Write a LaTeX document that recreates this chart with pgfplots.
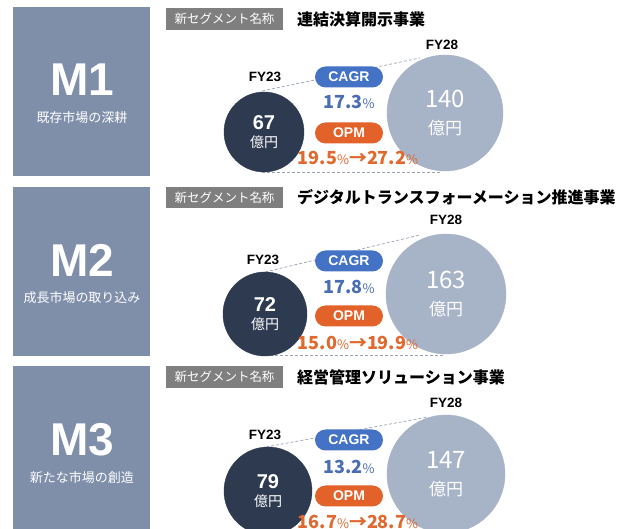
\documentclass[border=0pt]{standalone}
\usepackage{pgfplots}
\pgfplotsset{compat=1.18}
\usepackage{fontspec}
\setmainfont{Noto Sans CJK JP}
\newfontfamily\arialb{Liberation Sans}[Scale=1.0]
\definecolor{boxc}{HTML}{7F8FAA}
\definecolor{darkc}{HTML}{2D3A50}
\definecolor{lightc}{HTML}{A7B3C7}
\definecolor{cagrc}{HTML}{4472C4}
\definecolor{cagrt}{HTML}{4A6EB3}
\definecolor{opmc}{HTML}{E2622A}
\definecolor{opmt}{HTML}{E0692F}
\definecolor{labc}{HTML}{7F7F7F}
\definecolor{dashc}{HTML}{9AA3B3}

\newcommand{\pct}{{\fontsize{13}{13}\mdseries\selectfont\%}}
\pgfplotsset{
  fyA/.style={only marks, mark=*, color=darkc, point meta=explicit symbolic,
    nodes near coords={{\arialb\bfseries\fontsize{20}{18}\selectfont\pgfplotspointmeta}\\{\fontsize{14}{18}\selectfont 億円}},
    every node near coord/.append style={anchor=center, align=center, text=white, yshift=0pt, inner sep=0pt, font=\fontsize{14}{18}\selectfont}},
  fyB/.style={only marks, mark=*, color=lightc, point meta=explicit symbolic,
    nodes near coords={{\fontsize{24}{27}\selectfont\pgfplotspointmeta}\\{\fontsize{17}{27}\selectfont 億円}},
    every node near coord/.append style={anchor=center, align=center, text=white, yshift=0pt, inner sep=0pt, font=\fontsize{17}{27}\selectfont}},
}
\begin{document}
\begin{tikzpicture}
\begin{axis}[
  scale only axis, width=633pt, height=529pt,
  xmin=0, xmax=633, ymin=0, ymax=529, y dir=reverse,
  hide axis, clip=true, clip marker paths=true,
]
\fill[white] (axis cs:0,0) rectangle (axis cs:633,529);
% left boxes
\fill[boxc] (axis cs:13,7) rectangle (axis cs:150,176);
\fill[boxc] (axis cs:13,187) rectangle (axis cs:150,356);
\fill[boxc] (axis cs:13,366) rectangle (axis cs:150,540);
\node[text=white, font=\arialb\bfseries\fontsize{46}{46}\selectfont] at (axis cs:82,80) {M1};
\node[text=white, font=\fontsize{13}{13}\selectfont] at (axis cs:82,118) {既存市場の深耕};
\node[text=white, font=\arialb\bfseries\fontsize{46}{46}\selectfont] at (axis cs:82,260) {M2};
\node[text=white, font=\fontsize{13}{13}\selectfont] at (axis cs:82,298) {成長市場の取り込み};
\node[text=white, font=\arialb\bfseries\fontsize{46}{46}\selectfont] at (axis cs:82,440) {M3};
\node[text=white, font=\fontsize{13}{13}\selectfont] at (axis cs:82,478) {新たな市場の創造};

% segment labels
\fill[labc] (axis cs:166,8) rectangle (axis cs:283,30);
\fill[labc] (axis cs:166,187) rectangle (axis cs:283,208);
\fill[labc] (axis cs:166,366) rectangle (axis cs:283,388);
\node[text=white, font=\fontsize{12.5}{13}\selectfont] at (axis cs:224.5,19) {新セグメント名称};
\node[text=white, font=\fontsize{12.5}{13}\selectfont] at (axis cs:224.5,197.5) {新セグメント名称};
\node[text=white, font=\fontsize{12.5}{13}\selectfont] at (axis cs:224.5,377) {新セグメント名称};
\node[anchor=west, inner sep=0pt, font=\bfseries\fontsize{16}{16}\selectfont] at (axis cs:297,19) {連結決算開示事業};
\node[anchor=west, inner sep=0pt, font=\bfseries\fontsize{16}{16}\selectfont] at (axis cs:297,197.5) {デジタルトランスフォーメーション推進事業};
\node[anchor=west, inner sep=0pt, font=\bfseries\fontsize{16}{16}\selectfont] at (axis cs:297,377) {経営管理ソリューション事業};

% dashed connectors
\addplot[densely dashed, dashc, line width=0.7pt] coordinates {(262,91) (420,58)};
\addplot[densely dashed, dashc, line width=0.7pt] coordinates {(262,172) (442,172)};
\addplot[densely dashed, dashc, line width=0.7pt] coordinates {(265,272) (420,235)};
\addplot[densely dashed, dashc, line width=0.7pt] coordinates {(265,355) (444,355)};
\addplot[densely dashed, dashc, line width=0.7pt] coordinates {(266,447) (428,417)};

% bubbles: FY23 (dark) and FY28 (light), value in 億円
\addplot[fyA, mark size=40pt] coordinates {(264,132) [67]};
\addplot[fyA, mark size=42pt] coordinates {(265,314) [72]};
\addplot[fyA, mark size=44pt] coordinates {(268,491) [79]};
\addplot[fyB, mark size=58pt] coordinates {(445,113) [140]};
\addplot[fyB, mark size=60pt] coordinates {(446,294) [163]};
\addplot[fyB, mark size=59pt] coordinates {(446,474) [147]};

% FY labels
\node[font=\arialb\bfseries\fontsize{13.5}{14}\selectfont] at (axis cs:265,77) {FY23};
\node[font=\arialb\bfseries\fontsize{13.5}{14}\selectfont] at (axis cs:442,45) {FY28};
\node[font=\arialb\bfseries\fontsize{13.5}{14}\selectfont] at (axis cs:263,260) {FY23};
\node[font=\arialb\bfseries\fontsize{13.5}{14}\selectfont] at (axis cs:446,220) {FY28};
\node[font=\arialb\bfseries\fontsize{13.5}{14}\selectfont] at (axis cs:265,435) {FY23};
\node[font=\arialb\bfseries\fontsize{13.5}{14}\selectfont] at (axis cs:446,403) {FY28};

% pills
\tikzset{pill/.style={rounded corners=10.5pt, minimum width=68pt, minimum height=21pt, inner sep=0pt, text=white, font=\arialb\bfseries\fontsize{14}{14}\selectfont}}
\node[pill, fill=cagrc] at (axis cs:349,77) {CAGR};
\node[pill, fill=opmc] at (axis cs:349,133) {OPM};
\node[pill, fill=cagrc] at (axis cs:349,261) {CAGR};
\node[pill, fill=opmc] at (axis cs:349,316) {OPM};
\node[pill, fill=cagrc] at (axis cs:349,440) {CAGR};
\node[pill, fill=opmc] at (axis cs:349,496) {OPM};

% values
\node[text=cagrt, font=\bfseries\fontsize{18}{18}\selectfont] at (axis cs:349,102) {17.3\pct};
\node[text=opmt, font=\bfseries\fontsize{18}{18}\selectfont] at (axis cs:358,158) {19.5\pct→27.2\pct};
\node[text=cagrt, font=\bfseries\fontsize{18}{18}\selectfont] at (axis cs:349,287) {17.8\pct};
\node[text=opmt, font=\bfseries\fontsize{18}{18}\selectfont] at (axis cs:358,343) {15.0\pct→19.9\pct};
\node[text=cagrt, font=\bfseries\fontsize{18}{18}\selectfont] at (axis cs:349,467) {13.2\pct};
\node[text=opmt, font=\bfseries\fontsize{18}{18}\selectfont] at (axis cs:358,522) {16.7\pct→28.7\pct};
\end{axis}
\pgfresetboundingbox
\path[use as bounding box] (current axis.south west) rectangle (current axis.north east);
\end{tikzpicture}
\end{document}
